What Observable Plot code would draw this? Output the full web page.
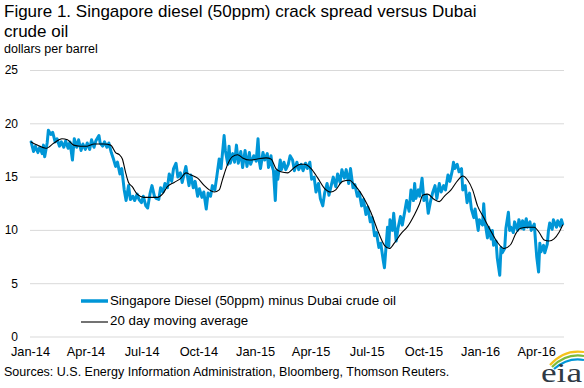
<!DOCTYPE html>
<html>
<head>
<meta charset="utf-8">
<script src="https://cdn.jsdelivr.net/npm/d3@7"></script>
<script src="https://cdn.jsdelivr.net/npm/@observablehq/plot@0.6"></script>
<style>
  body { margin: 0; background: #fff; }
  #wrap { position: relative; width: 584px; height: 388px; overflow: hidden; font-family: "Liberation Sans", Arial, sans-serif; color: #000; }
  .tline { position: absolute; left: 4px; font-size: 17px; line-height: 14px; white-space: nowrap; }
  #t1 { top: 4.7px; }
  #t2 { top: 25.4px; }
  #sub { position: absolute; left: 4px; top: 43.7px; font-size: 12.5px; line-height: 10px; white-space: nowrap; }
  #chart { position: absolute; left: 0; top: 56px; }
  #legend { position: absolute; left: 81px; top: 291px; font-size: 13.3px; line-height: 20.4px; }
  #legend .row { display: flex; align-items: center; height: 20.4px; white-space: nowrap; }
  #legend svg { flex: none; }
  #source { position: absolute; left: 4px; top: 365px; font-size: 12.5px; line-height: 14px; white-space: nowrap; }
  #logo { position: absolute; left: 536px; top: 341px; }
</style>
</head>
<body>
<div id="wrap">
  <div id="t1" class="tline">Figure 1. Singapore diesel (50ppm) crack spread versus Dubai</div>
  <div id="t2" class="tline">crude oil</div>
  <div id="sub">dollars per barrel</div>
  <div id="chart"></div>
  <div id="legend"></div>
  <div id="source">Sources: U.S. Energy Information Administration, Bloomberg, Thomson Reuters.</div>
  <svg id="logo" width="48" height="47" viewBox="0 0 48 47">
    <path d="M14,24 Q28,8 48,11" fill="none" stroke="#f5c21b" stroke-width="2.2"/>
    <path d="M16,26 Q30,12 48,15" fill="none" stroke="#7dba3c" stroke-width="2.2"/>
    <path d="M18,28 Q32,16 48,19" fill="none" stroke="#0096d7" stroke-width="2.2"/>
    <text x="5" y="41" font-family="Liberation Serif" font-size="28" textLength="41" lengthAdjust="spacingAndGlyphs" fill="#2f3a45">eia</text>
  </svg>
</div>
<script>
// Series names
const seriesNames = ["Singapore Diesel (50ppm) minus Dubai crude oil", "20 day moving average"];

const spreadDates = [
  "2014-01-02","2014-01-06","2014-01-09","2014-01-13","2014-01-16","2014-01-20","2014-01-22","2014-01-24","2014-01-28","2014-01-30",
  "2014-02-03","2014-02-06","2014-02-10","2014-02-13","2014-02-17","2014-02-20","2014-02-24","2014-02-27",
  "2014-03-03","2014-03-06","2014-03-10","2014-03-13","2014-03-17","2014-03-20","2014-03-24","2014-03-27","2014-03-31",
  "2014-04-03","2014-04-07","2014-04-10","2014-04-14","2014-04-17","2014-04-22","2014-04-24","2014-04-28",
  "2014-05-01","2014-05-05","2014-05-08","2014-05-12","2014-05-15","2014-05-19","2014-05-22","2014-05-26","2014-05-29",
  "2014-06-02","2014-06-05","2014-06-09","2014-06-12","2014-06-16","2014-06-19","2014-06-23","2014-06-26","2014-06-30",
  "2014-07-03","2014-07-07","2014-07-10","2014-07-14","2014-07-17","2014-07-21","2014-07-24","2014-07-28","2014-07-31",
  "2014-08-04","2014-08-07","2014-08-11","2014-08-14","2014-08-18","2014-08-21","2014-08-25","2014-08-28",
  "2014-09-01","2014-09-04","2014-09-08","2014-09-10","2014-09-15","2014-09-18","2014-09-22","2014-09-25","2014-09-29",
  "2014-10-02","2014-10-06","2014-10-09","2014-10-13","2014-10-16","2014-10-20","2014-10-23","2014-10-27","2014-10-30",
  "2014-11-03","2014-11-06","2014-11-11","2014-11-13","2014-11-17","2014-11-19","2014-11-21","2014-11-25","2014-11-28",
  "2014-12-01","2014-12-04","2014-12-08","2014-12-11","2014-12-15","2014-12-18","2014-12-22","2014-12-24","2014-12-29",
  "2015-01-02","2015-01-05","2015-01-07","2015-01-09","2015-01-13","2015-01-16","2015-01-20","2015-01-22","2015-01-26","2015-01-28","2015-01-30",
  "2015-02-02","2015-02-04","2015-02-06","2015-02-10","2015-02-12","2015-02-16","2015-02-19","2015-02-23","2015-02-26",
  "2015-03-02","2015-03-05","2015-03-09","2015-03-12","2015-03-16","2015-03-19","2015-03-23","2015-03-26","2015-03-30",
  "2015-04-02","2015-04-06","2015-04-09","2015-04-13","2015-04-16","2015-04-20","2015-04-23","2015-04-27","2015-04-30",
  "2015-05-04","2015-05-07","2015-05-11","2015-05-14","2015-05-18","2015-05-21","2015-05-25","2015-05-28",
  "2015-06-01","2015-06-04","2015-06-08","2015-06-11","2015-06-15","2015-06-18","2015-06-22","2015-06-25","2015-06-29",
  "2015-07-02","2015-07-06","2015-07-09","2015-07-13","2015-07-16","2015-07-20","2015-07-23","2015-07-27","2015-07-29",
  "2015-08-03","2015-08-05","2015-08-07","2015-08-11","2015-08-13","2015-08-17","2015-08-20","2015-08-24","2015-08-27","2015-08-31",
  "2015-09-03","2015-09-07","2015-09-10","2015-09-14","2015-09-16","2015-09-18","2015-09-22","2015-09-24","2015-09-28",
  "2015-10-01","2015-10-05","2015-10-08","2015-10-12","2015-10-15","2015-10-19","2015-10-22","2015-10-26","2015-10-29",
  "2015-11-02","2015-11-05","2015-11-09","2015-11-12","2015-11-16","2015-11-18","2015-11-20","2015-11-24","2015-11-27",
  "2015-12-01","2015-12-03","2015-12-07","2015-12-10","2015-12-14","2015-12-17","2015-12-21","2015-12-23","2015-12-28","2015-12-30",
  "2016-01-04","2016-01-06","2016-01-08","2016-01-12","2016-01-14","2016-01-18","2016-01-20","2016-01-22","2016-01-26","2016-01-28",
  "2016-02-01","2016-02-03","2016-02-05","2016-02-09","2016-02-11","2016-02-15","2016-02-17","2016-02-19","2016-02-23","2016-02-25",
  "2016-03-01","2016-03-03","2016-03-07","2016-03-09","2016-03-11","2016-03-15","2016-03-17","2016-03-21","2016-03-23","2016-03-28","2016-03-30",
  "2016-04-01","2016-04-04","2016-04-06","2016-04-08","2016-04-12","2016-04-14","2016-04-18","2016-04-20","2016-04-22","2016-04-26","2016-04-28",
  "2016-05-03","2016-05-05","2016-05-09","2016-05-11","2016-05-13"
];
const spreadValues = [
  18.3,17.4,17.9,17.3,17.8,17.2,18.0,16.9,18.2,19.4,
  19.0,19.2,18.3,18.6,17.9,18.3,17.8,18.4,
  17.7,18.3,16.6,18.6,17.8,18.5,17.5,18.1,17.6,
  18.2,17.6,18.5,17.8,18.4,18.9,18.2,17.9,
  18.3,17.8,18.2,17.3,16.8,16.0,16.4,15.3,15.8,
  13.8,12.8,14.2,12.9,13.2,12.8,13.4,12.9,12.6,
  13.2,12.3,12.1,13.5,14.2,13.2,13.0,12.9,14.0,
  13.6,14.4,14.0,15.3,14.6,15.8,16.3,15.0,
  15.4,14.5,15.5,16.0,14.2,15.2,14.0,14.6,13.2,
  13.9,13.1,13.6,12.0,13.5,13.2,14.2,13.8,15.0,
  16.7,15.8,18.9,17.5,16.2,17.9,16.3,17.2,16.4,
  18.0,16.3,17.4,15.9,17.5,16.0,17.3,16.2,17.0,
  16.5,18.6,16.5,15.8,17.3,16.6,17.2,15.9,17.0,16.0,15.6,
  12.8,15.6,14.8,16.6,15.7,16.4,15.7,16.2,17.0,
  16.6,15.6,16.4,15.7,16.2,15.6,16.3,15.8,16.4,
  14.8,15.0,13.6,14.4,13.0,12.3,13.5,14.4,13.3,
  14.3,15.0,14.1,15.3,14.5,15.7,14.9,15.7,
  14.4,15.8,14.0,14.3,13.2,13.6,12.3,12.9,11.5,
  12.2,10.8,11.2,9.5,9.8,8.4,8.8,7.2,6.5,
  10.3,8.5,11.0,10.0,11.6,9.0,10.2,11.3,10.5,11.8,
  12.8,11.8,13.8,12.8,14.4,13.0,13.8,13.2,14.9,
  12.8,13.3,11.6,12.8,13.5,14.2,13.0,14.4,13.6,
  14.2,13.8,15.2,14.6,15.6,16.4,15.8,16.2,15.5,
  15.8,13.8,14.2,12.6,13.5,12.0,11.2,12.0,10.0,11.0,
  10.5,12.5,10.8,9.3,10.3,9.2,10.0,8.6,9.0,7.4,
  5.8,8.4,7.9,8.3,10.2,11.7,10.0,10.3,9.8,10.8,
  10.0,11.0,10.2,10.9,10.1,11.1,10.3,10.8,10.0,10.6,9.0,
  7.5,6.1,8.8,8.0,8.6,7.9,8.7,10.0,10.7,10.1,11.0,
  10.3,10.9,10.4,11.0,10.6
];

// 20 day moving average
const avgDates = [
  "2014-01-02","2014-01-12","2014-01-26","2014-02-08","2014-02-21","2014-03-02","2014-03-12","2014-03-23","2014-04-03","2014-04-14",
  "2014-04-30","2014-05-11","2014-05-19","2014-05-25","2014-05-30","2014-06-04","2014-06-09","2014-06-15","2014-06-23","2014-07-04",
  "2014-07-15","2014-07-26","2014-08-03","2014-08-11","2014-08-22","2014-09-02","2014-09-10","2014-09-18","2014-09-29","2014-10-10",
  "2014-10-18","2014-10-26","2014-11-03","2014-11-08","2014-11-16","2014-11-24","2014-12-03","2014-12-11","2014-12-22","2015-01-04",
  "2015-01-18","2015-01-26","2015-02-03","2015-02-11","2015-02-22","2015-03-05","2015-03-15","2015-03-21","2015-04-01","2015-04-12",
  "2015-04-22","2015-05-03","2015-05-11","2015-05-22","2015-06-02","2015-06-13","2015-06-26","2015-07-07","2015-07-18","2015-07-29",
  "2015-08-06","2015-08-14","2015-08-25","2015-09-05","2015-09-15","2015-09-24","2015-09-29","2015-10-07","2015-10-18","2015-10-26",
  "2015-11-03","2015-11-14","2015-11-25","2015-12-03","2015-12-11","2015-12-19","2015-12-27","2016-01-06","2016-01-17","2016-01-28",
  "2016-02-08","2016-02-19","2016-02-27","2016-03-06","2016-03-17","2016-03-28","2016-04-05","2016-04-13","2016-04-21","2016-04-29",
  "2016-05-07","2016-05-13"
];
const avgValues = [
  18.3,18.0,17.7,18.2,18.6,18.5,18.0,17.9,17.9,18.1,
  18.1,18.0,17.3,17.1,16.7,15.5,14.5,14.1,13.4,13.1,
  13.1,13.1,13.4,14.1,14.5,14.9,15.4,15.2,14.9,14.2,
  13.8,13.6,13.8,14.7,16.1,16.9,17.1,16.8,16.6,16.7,
  16.8,16.7,15.8,15.5,15.4,15.9,16.2,16.2,15.8,14.9,
  14.0,13.6,13.8,14.6,14.7,14.1,13.0,11.7,10.0,8.6,
  8.3,8.8,9.7,10.4,11.4,12.5,13.3,13.4,12.9,12.7,
  13.2,13.8,14.7,15.1,14.7,13.8,12.3,11.2,10.0,8.9,
  8.3,8.7,9.7,10.2,10.3,10.3,9.8,9.1,9.0,9.2,
  9.8,10.5
];

// Axis ticks
const xTickDates = ["2014-01-01","2014-04-01","2014-07-01","2014-10-01","2015-01-01","2015-04-01","2015-07-01","2015-10-01","2016-01-01","2016-04-01"];
const yTickValues = [0, 5, 10, 15, 20, 25];

const parse = d3.utcParse("%Y-%m-%d");
const spread = spreadDates.map((d, i) => ({date: parse(d), value: spreadValues[i]}));
const avg = avgDates.map((d, i) => ({date: parse(d), value: avgValues[i]}));
const xTicks = xTickDates.map(parse);

const colors = {spread: "#0096d7", avg: "#000000", grid: "#d9d9d9"};

const chart = Plot.plot({
  width: 584,
  height: 310,
  marginLeft: 30,
  marginRight: 20,
  marginTop: 14,
  marginBottom: 29.5,
  style: {fontFamily: "'Liberation Sans', Arial, sans-serif", fontSize: "12px", color: "#000", background: "transparent", overflow: "visible"},
  x: {type: "utc", domain: [parse("2014-01-01"), parse("2016-05-16")]},
  y: {domain: [0, 25]},
  marks: [
    Plot.ruleY(yTickValues, {stroke: colors.grid, strokeWidth: 1}),
    Plot.axisY({ticks: yTickValues, tickSize: 0, tickPadding: 12.5, label: null, fontSize: 12}),
    Plot.axisX({ticks: xTicks, tickSize: 0, tickPadding: 10, tickFormat: d3.utcFormat("%b-%y"), label: null, fontSize: 12.8}),
    Plot.lineY(spread, {x: "date", y: "value", stroke: colors.spread, strokeWidth: 3, strokeLinejoin: "round"}),
    Plot.lineY(avg, {x: "date", y: "value", stroke: colors.avg, strokeWidth: 1.1, curve: "monotone-x"})
  ]
});
document.getElementById("chart").appendChild(chart);

// Legend
const legend = document.getElementById("legend");
[[seriesNames[0], colors.spread, 3.5], [seriesNames[1], colors.avg, 1.1]].forEach(([name, c, w]) => {
  const row = document.createElement("div");
  row.className = "row";
  row.innerHTML = `<svg width="29" height="20"><line x1="0" x2="27" y1="10" y2="10" stroke="${c}" stroke-width="${w}"/></svg><span>${name}</span>`;
  legend.appendChild(row);
});
</script>
</body>
</html>
